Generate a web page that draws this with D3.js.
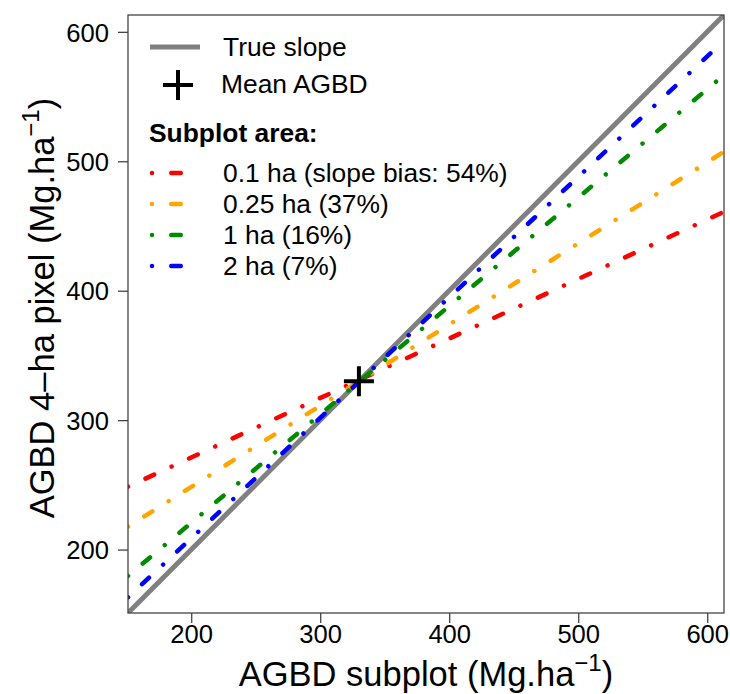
<!DOCTYPE html>
<html lang="en">
<head>
<meta charset="utf-8">
<title>AGBD subplot vs 4-ha pixel</title>
<script src="https://cdn.jsdelivr.net/npm/d3@7"></script>
<style>
  body { margin: 0; background: #fff; }
  svg text { font-family: "Liberation Sans", Arial, Helvetica, sans-serif; fill: #000; }
  .tick text { font-size: 25.6px; }
</style>
</head>
<body>
<script>
// values
const axisTicks = [200, 300, 400, 500, 600];
const domain = [151, 613];
const edgeX = [151, 613];               // x at the two plot edges
const seriesNames = ["0.1 ha (slope bias: 54%)", "0.25 ha (37%)", "1 ha (16%)", "2 ha (7%)"];
const seriesColors = ["#ff0000", "#ffa500", "#008b00", "#0000ff"];
const leftY = [248.6, 217.7, 179.6, 163.1];   // fitted y at left edge
const rightY = [461, 507.4, 566.6, 593.1];    // fitted y at right edge
const meanAGBD = [330, 330];

const w = 730, h = 694;
const margin = {top: 15, right: 6, bottom: 81, left: 128};

const svg = d3.select("body").append("svg")
  .attr("width", w).attr("height", h);

const x = d3.scaleLinear().domain(domain).range([margin.left, w - margin.right]);
const y = d3.scaleLinear().domain(domain).range([h - margin.bottom, margin.top]);

svg.append("clipPath").attr("id", "plotclip")
  .append("rect")
  .attr("x", margin.left).attr("y", margin.top)
  .attr("width", w - margin.left - margin.right)
  .attr("height", h - margin.top - margin.bottom);

const plot = svg.append("g").attr("clip-path", "url(#plotclip)");

// true slope 1:1
plot.append("line")
  .attr("x1", x(domain[0])).attr("y1", y(domain[0]))
  .attr("x2", x(domain[1])).attr("y2", y(domain[1]))
  .attr("stroke", "#808080").attr("stroke-width", 5);

const dotdash = "0.01,19.25,9.5,19.25";

seriesNames.forEach((name, i) => {
  plot.append("line")
    .attr("x1", x(edgeX[0])).attr("y1", y(leftY[i]))
    .attr("x2", x(edgeX[1])).attr("y2", y(rightY[i]))
    .attr("stroke", seriesColors[i])
    .attr("stroke-width", 4.5)
    .attr("stroke-linecap", "round")
    .attr("stroke-dasharray", dotdash);
});

// mean AGBD cross
function cross(g, cx, cy) {
  g.append("path")
    .attr("d", `M${cx - 15},${cy}H${cx + 15}M${cx},${cy - 15}V${cy + 15}`)
    .attr("stroke", "#000").attr("stroke-width", 4).attr("fill", "none");
}
cross(svg, x(meanAGBD[0]), y(meanAGBD[1]));

// axes
const xAxis = d3.axisBottom(x).tickValues(axisTicks).tickSize(10).tickPadding(3).tickSizeOuter(0);
const yAxis = d3.axisLeft(y).tickValues(axisTicks).tickSize(10).tickPadding(9).tickSizeOuter(0);

const gx = svg.append("g").attr("class", "axis")
  .attr("transform", `translate(0,${h - margin.bottom})`).call(xAxis);
const gy = svg.append("g").attr("class", "axis")
  .attr("transform", `translate(${margin.left},0)`).call(yAxis);
svg.selectAll(".axis .domain").remove();
svg.selectAll(".axis line").attr("stroke", "#444").attr("stroke-width", 1.3);
gx.selectAll("text").attr("dy", null).attr("y", 30);
gy.selectAll("text").attr("dy", "0.36em");

// box
svg.append("rect")
  .attr("x", margin.left).attr("y", margin.top)
  .attr("width", w - margin.left - margin.right)
  .attr("height", h - margin.top - margin.bottom)
  .attr("fill", "none").attr("stroke", "#444").attr("stroke-width", 1.3);

// axis titles
const xt = svg.append("text")
  .attr("x", (margin.left + w - margin.right) / 2)
  .attr("y", 686)
  .attr("text-anchor", "middle")
  .style("font-size", "34.5px");
xt.append("tspan").text("AGBD subplot (Mg.ha");
xt.append("tspan").attr("dy", -15).style("font-size", "24px").text("\u22121");
xt.append("tspan").attr("dy", 15).text(")");

const yt = svg.append("text")
  .attr("transform", `translate(54,${(margin.top + h - margin.bottom) / 2 - 6}) rotate(-90)`)
  .attr("text-anchor", "middle")
  .style("font-size", "34.5px");
yt.append("tspan").text("AGBD 4\u2013ha pixel (Mg.ha");
yt.append("tspan").attr("dy", -15).style("font-size", "24px").text("\u22121");
yt.append("tspan").attr("dy", 15).text(")");

// legend
const leg = svg.append("g");
leg.append("line")
  .attr("x1", 150).attr("x2", 200).attr("y1", 47).attr("y2", 47)
  .attr("stroke", "#808080").attr("stroke-width", 5);
leg.append("text").attr("x", 223).attr("y", 56).style("font-size", "26.4px").text("True slope");
cross(leg, 178, 85);
leg.append("text").attr("x", 221).attr("y", 93).style("font-size", "26.4px").text("Mean AGBD");
leg.append("text").attr("x", 149).attr("y", 142)
  .style("font-size", "26.4px").style("font-weight", "bold").text("Subplot area:");

seriesNames.forEach((name, i) => {
  const yy = 173 + i * 31;
  leg.append("line")
    .attr("x1", 152).attr("x2", 196).attr("y1", yy).attr("y2", yy)
    .attr("stroke", seriesColors[i]).attr("stroke-width", 4.5)
    .attr("stroke-linecap", "round").attr("stroke-dasharray", dotdash);
  leg.append("text").attr("x", 223).attr("y", yy + 9)
    .style("font-size", "26.4px").text(name);
});
</script>
</body>
</html>
